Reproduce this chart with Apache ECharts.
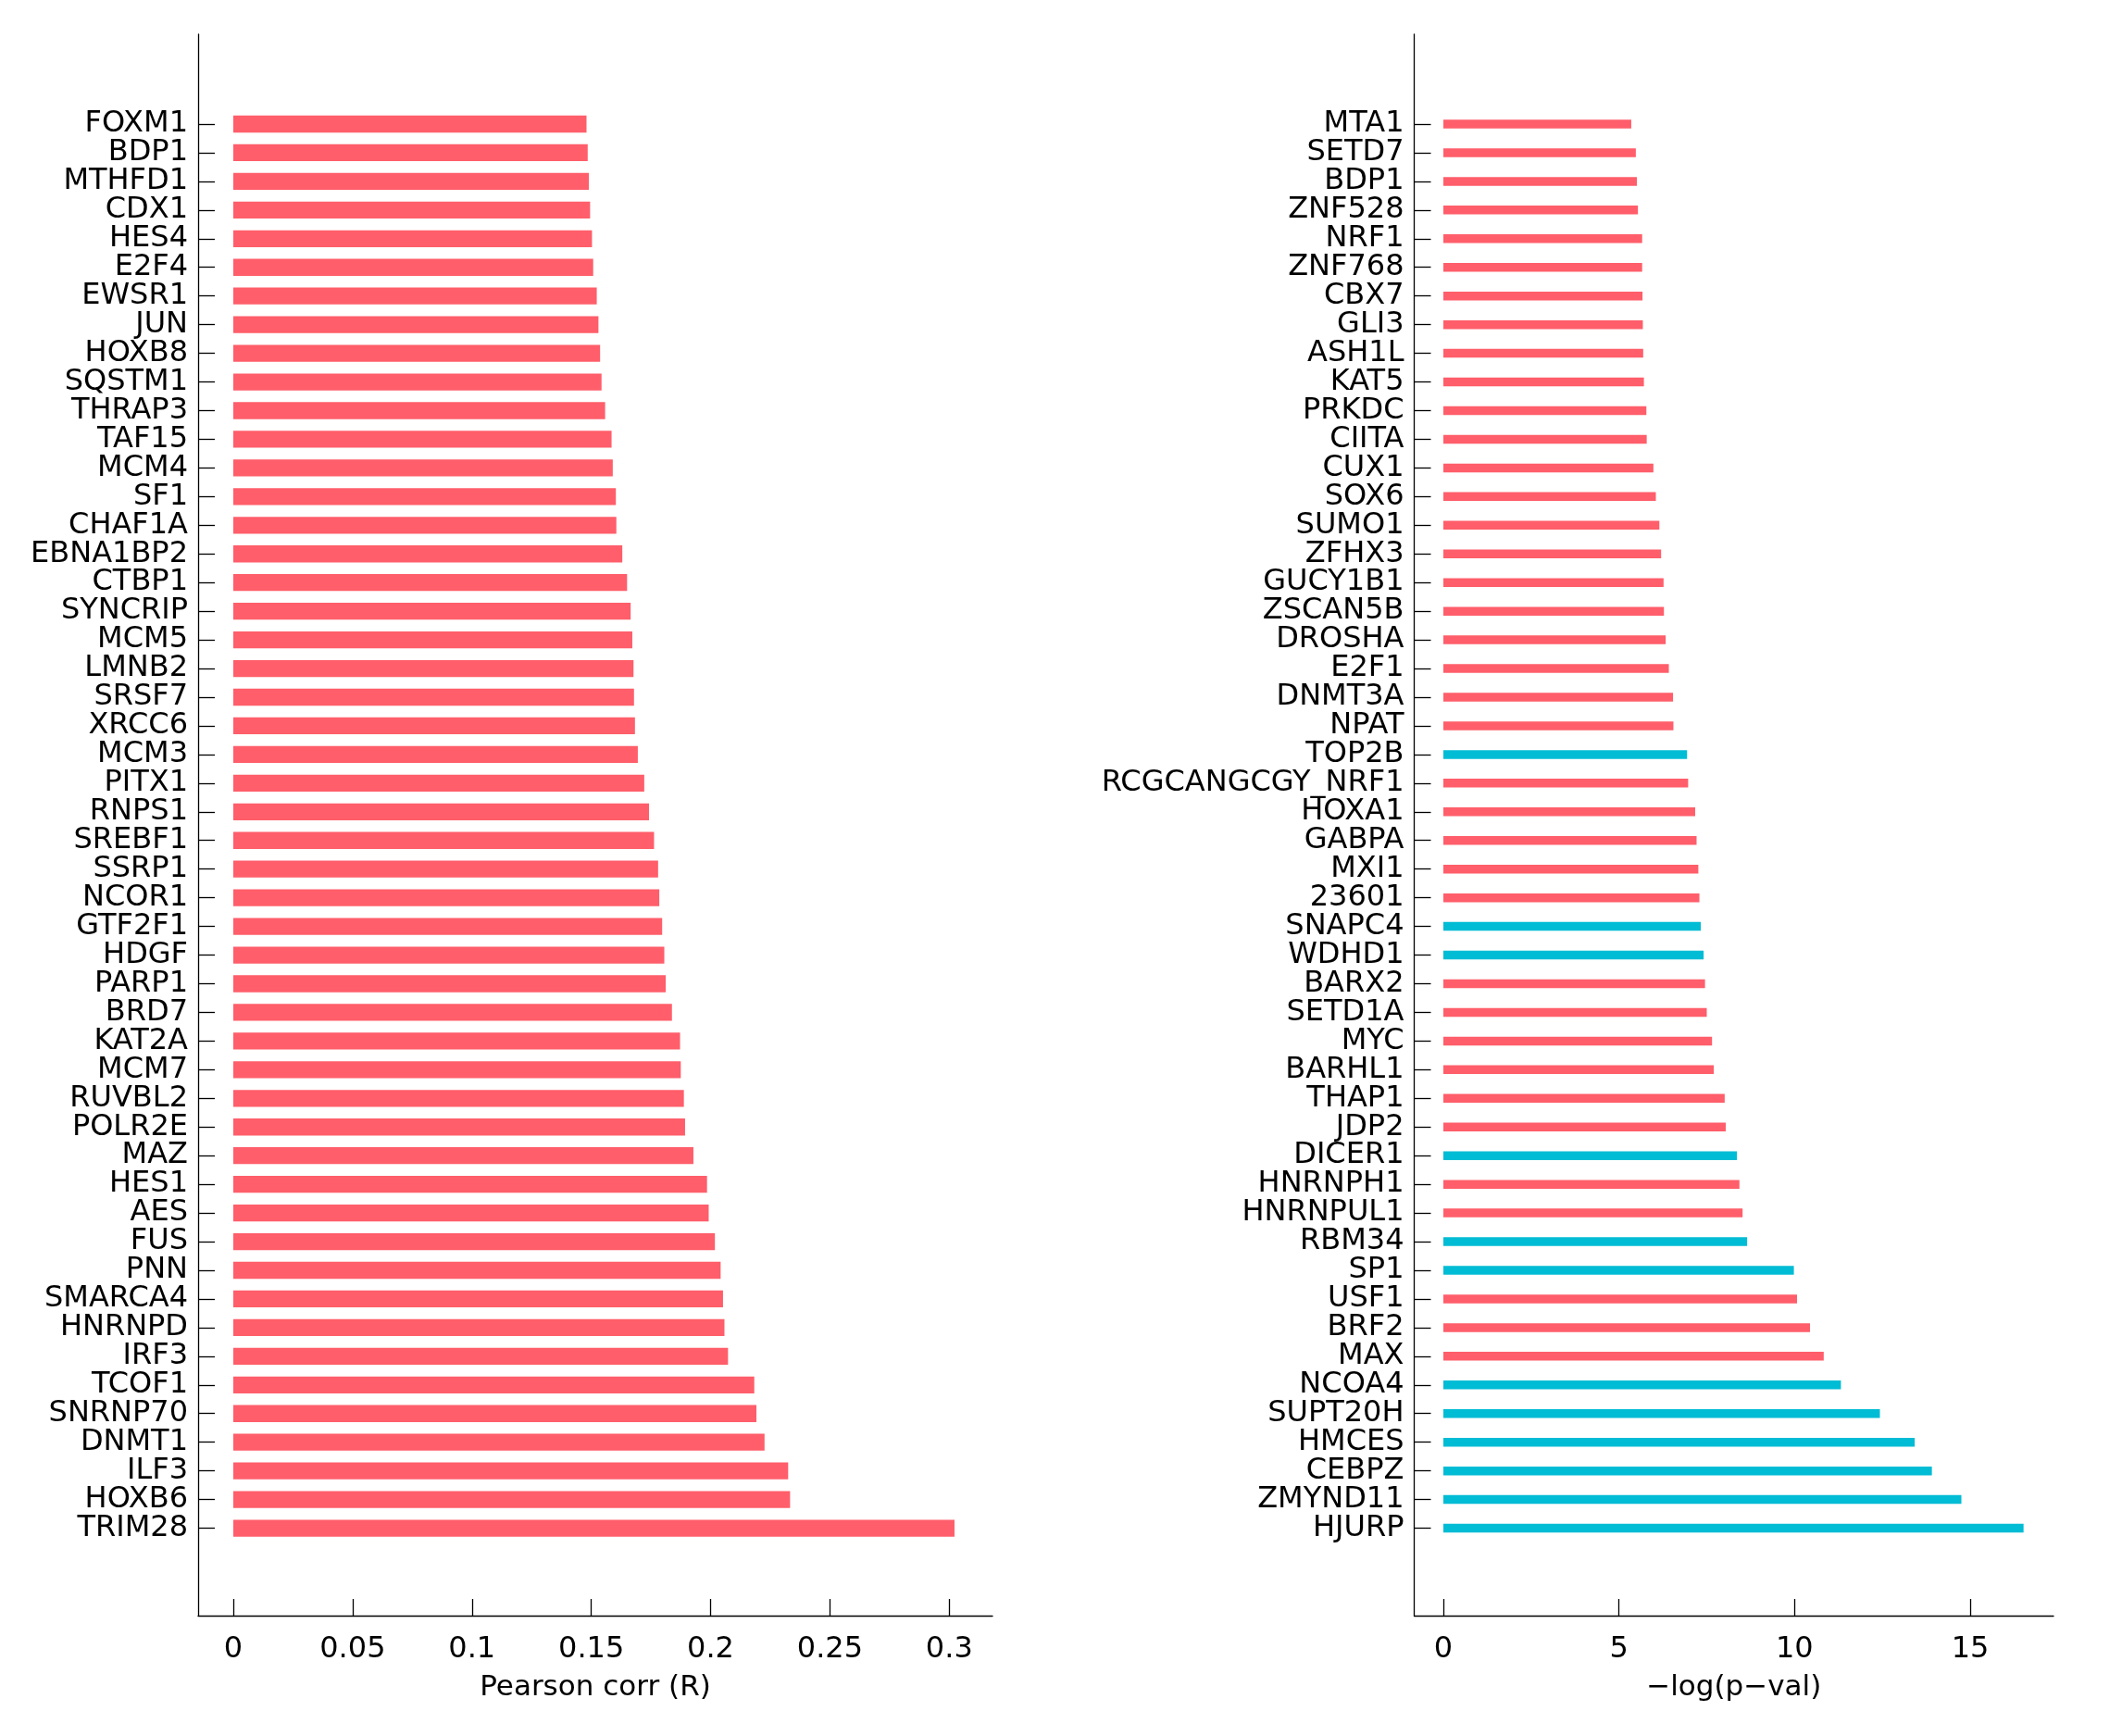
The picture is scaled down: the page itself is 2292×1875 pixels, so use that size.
<!DOCTYPE html>
<html>
<head>
<meta charset="utf-8">
<script src="https://cdn.jsdelivr.net/npm/echarts@6/dist/echarts.min.js"></script>
<style>
html,body{margin:0;padding:0;background:#fff;}
#chart{width:2292px;height:1875px;}
</style>
</head>
<body>
<div id="chart"></div>
<script>
const leftCategories = ['FOXM1','BDP1','MTHFD1','CDX1','HES4','E2F4','EWSR1','JUN','HOXB8','SQSTM1','THRAP3','TAF15','MCM4','SF1','CHAF1A','EBNA1BP2','CTBP1','SYNCRIP','MCM5','LMNB2','SRSF7','XRCC6','MCM3','PITX1','RNPS1','SREBF1','SSRP1','NCOR1','GTF2F1','HDGF','PARP1','BRD7','KAT2A','MCM7','RUVBL2','POLR2E','MAZ','HES1','AES','FUS','PNN','SMARCA4','HNRNPD','IRF3','TCOF1','SNRNP70','DNMT1','ILF3','HOXB6','TRIM28'];
const leftValues = [0.148,0.1485,0.149,0.1495,0.1503,0.1508,0.1523,0.153,0.1537,0.1543,0.1558,0.1585,0.159,0.1603,0.1605,0.163,0.165,0.1665,0.1672,0.1677,0.1679,0.1683,0.1695,0.1722,0.1742,0.1763,0.178,0.1785,0.1797,0.1806,0.1812,0.1838,0.1872,0.1875,0.1888,0.1893,0.1928,0.1985,0.1992,0.2018,0.2042,0.2052,0.2058,0.2073,0.2183,0.2192,0.2226,0.2325,0.2333,0.3022];
const leftTicks = [0,0.05,0.1,0.15,0.2,0.25,0.3];

const rightCategories = ['MTA1','SETD7','BDP1','ZNF528','NRF1','ZNF768','CBX7','GLI3','ASH1L','KAT5','PRKDC','CIITA','CUX1','SOX6','SUMO1','ZFHX3','GUCY1B1','ZSCAN5B','DROSHA','E2F1','DNMT3A','NPAT','TOP2B','RCGCANGCGY_NRF1','HOXA1','GABPA','MXI1','23601','SNAPC4','WDHD1','BARX2','SETD1A','MYC','BARHL1','THAP1','JDP2','DICER1','HNRNPH1','HNRNPUL1','RBM34','SP1','USF1','BRF2','MAX','NCOA4','SUPT20H','HMCES','CEBPZ','ZMYND11','HJURP'];
const rightValues = [5.35,5.48,5.51,5.54,5.66,5.66,5.67,5.68,5.69,5.71,5.78,5.79,5.98,6.05,6.15,6.2,6.27,6.28,6.33,6.42,6.54,6.55,6.94,6.97,7.17,7.21,7.26,7.29,7.33,7.41,7.45,7.5,7.65,7.7,8.01,8.04,8.36,8.43,8.52,8.65,9.98,10.07,10.44,10.83,11.32,12.43,13.42,13.91,14.75,16.52];
// group flag per gene (1 = second group, drawn in cyan)
const rightGroup = [0,0,0,0,0,0,0,0,0,0,0,0,0,0,0,0,0,0,0,0,0,0,1,0,0,0,0,0,1,1,0,0,0,0,0,0,1,0,0,1,1,0,0,0,1,1,1,1,1,1];
const rightTicks = [0,5,10,15];

const RED = '#ff5e6a';
const CYAN = '#00bcd4';
const FONT = 'DejaVu Sans';
const W = 2292, H = 1875;

// layout (px)
const L = {axL:214, axR:1072, tick0:252, tickEnd:1025.3};
const R = {axL:1527.5, axR:2218, tick0:1559, tickEnd:2128};
const axisTop = 37, axisBottom = 1745;
const catTop = 118.5, catBottom = 1666;

function range(p, tmin, tmax){
  const per = (p.tickEnd - p.tick0) / (tmax - tmin);
  return {min: tmin - (p.tick0 - p.axL)/per, max: tmin + (p.axR - p.tick0)/per};
}
const lr = range(L, 0, 0.3);
const rr = range(R, 0, 15);

const lineStyle = {color:'#000', width:1.3};

function frameAxes(gi, rg, ticks, name, fmt){
  return {
    x: {
      type:'value', gridIndex:gi, min:rg.min, max:rg.max,
      axisLine:{show:true, onZero:false, lineStyle},
      axisTick:{show:true, inside:true, length:18, lineStyle, customValues:ticks},
      axisLabel:{show:true, customValues:ticks, formatter:fmt, fontFamily:FONT, fontSize:32, color:'#000', margin:21},
      splitLine:{show:false},
      name:name, nameLocation:'middle', nameGap:62,
      nameTextStyle:{fontFamily:FONT, fontSize:31, color:'#000'}
    },
    y: {
      type:'value', gridIndex:gi, min:0, max:1,
      axisLine:{show:true, onZero:false, lineStyle},
      axisTick:{show:false}, axisLabel:{show:false}, splitLine:{show:false}
    }
  };
}
const lf = frameAxes(0, lr, leftTicks, 'Pearson corr (R)', v => String(+v.toFixed(2)));
const rf = frameAxes(2, rr, rightTicks, '\u2212log(p\u2212val)', v => String(v));

function barAxes(gi, rg, cats){
  return {
    x: {type:'value', gridIndex:gi, min:rg.min, max:rg.max, show:false, splitLine:{show:false}},
    y: {
      type:'category', gridIndex:gi, data:cats, inverse:true,
      axisLine:{show:false, onZero:false},
      axisTick:{show:true, inside:true, length:18, alignWithLabel:true, lineStyle},
      axisLabel:{show:true, interval:0, fontFamily:FONT, fontSize:32, color:'#000', margin:11},
      splitLine:{show:false}
    }
  };
}
const lb = barAxes(1, lr, leftCategories);
const rb = barAxes(3, rr, rightCategories);

const option = {
  backgroundColor:'#fff',
  animation:false,
  grid:[
    {left:L.axL, right:W-L.axR, top:axisTop, bottom:H-axisBottom, outerBoundsMode:'none'},
    {left:L.axL, right:W-L.axR, top:catTop, bottom:H-catBottom, outerBoundsMode:'none'},
    {left:R.axL, right:W-R.axR, top:axisTop, bottom:H-axisBottom, outerBoundsMode:'none'},
    {left:R.axL, right:W-R.axR, top:catTop, bottom:H-catBottom, outerBoundsMode:'none'}
  ],
  xAxis:[lf.x, lb.x, rf.x, rb.x],
  yAxis:[lf.y, lb.y, rf.y, rb.y],
  series:[
    {
      type:'bar', xAxisIndex:1, yAxisIndex:1, data:leftValues,
      barWidth:18.3, itemStyle:{color:RED}, silent:true
    },
    {
      type:'bar', xAxisIndex:3, yAxisIndex:3,
      data:rightValues.map((v,i)=>({value:v, itemStyle:{color: rightGroup[i] ? CYAN : RED}})),
      barWidth:9.5, silent:true
    }
  ]
};
const chart = echarts.init(document.getElementById('chart'), null, {renderer:'canvas'});
chart.setOption(option);
</script>
</body>
</html>
